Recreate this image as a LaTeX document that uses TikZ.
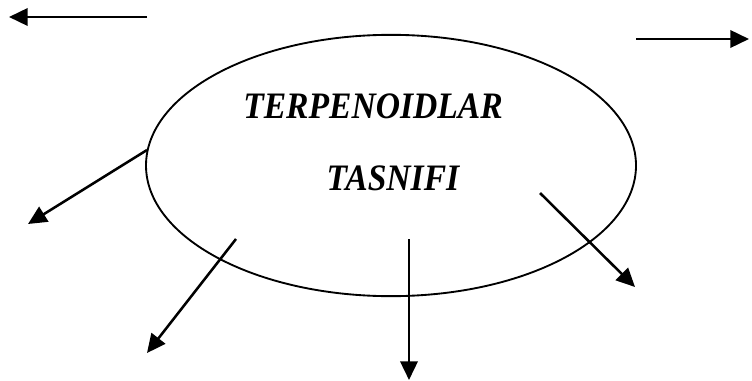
\documentclass[tikz,border=0pt]{standalone}
\usepackage{fontspec}
\setmainfont{Liberation Serif}
\usepackage{tikz}
\usetikzlibrary{arrows.meta,shapes.geometric}
\tikzset{
  tasarrow/.style={line width=1.9pt,-{Triangle[length=14pt,width=13pt]}},
  tastext/.style={font=\fontsize{28}{30}\selectfont\bfseries\itshape,inner sep=0pt,xscale=0.9,transform shape}
}

\begin{document}
\begin{tikzpicture}[x=0.75pt,y=-0.75pt]
  \useasboundingbox (0,0) rectangle (752,381);
  \node[draw,ellipse,line width=1.4pt,minimum width=367.5pt,minimum height=196pt,inner sep=0pt] (tasnif) at (391,165.5) {};
  \node[tastext] (terp) at (373,106) {TERPENOIDLAR};
  \node[tastext] (tasn) at (393,178.5) {TASNIFI};
  \coordinate (s1) at (147,17);   \coordinate (t1) at (9,17);
  \coordinate (s2) at (636,39);   \coordinate (t2) at (749,39);
  \coordinate (s3) at (147,150);  \coordinate (t3) at (28,224);
  \coordinate (s4) at (236,239);  \coordinate (t4) at (147,353);
  \coordinate (s5) at (409,239);  \coordinate (t5) at (409,380);
  \coordinate (s6) at (540,193);  \coordinate (t6) at (635,287);
  \draw[tasarrow] (s1) -- (t1);
  \draw[tasarrow] (s2) -- (t2);
  \draw[tasarrow] (s3) -- (t3);
  \draw[tasarrow] (s4) -- (t4);
  \draw[tasarrow] (s5) -- (t5);
  \draw[tasarrow] (s6) -- (t6);
\end{tikzpicture}
\end{document}
